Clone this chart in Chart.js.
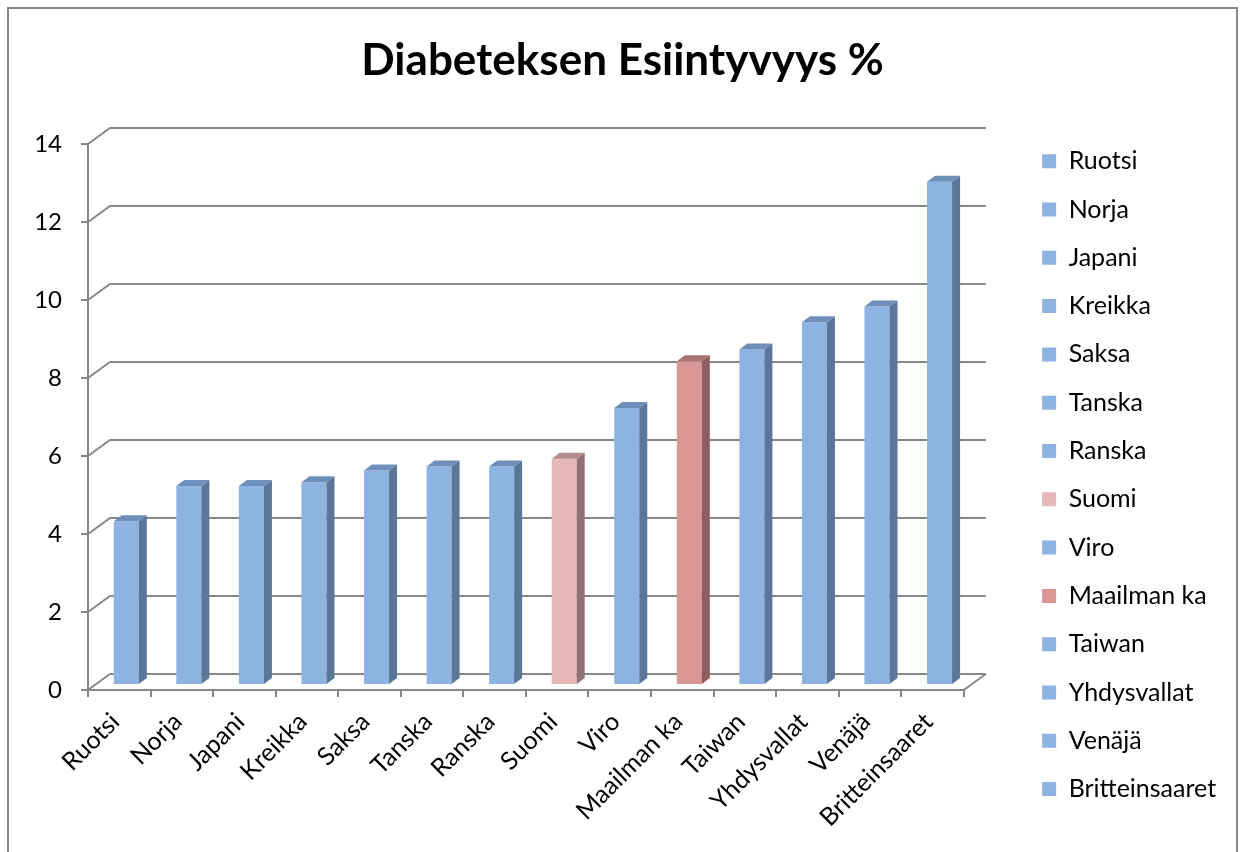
<!doctype html>
<html>
<head>
  <meta charset="utf-8">
  <script src="https://cdn.jsdelivr.net/npm/chart.js@4/dist/chart.umd.min.js"></script>
  <style>
    html, body { margin: 0; padding: 0; background: #fff; }
  </style>
</head>
<body>
  <canvas id="canvas" width="1244" height="852"></canvas>
  <script>
    const countries = ['Ruotsi', 'Norja', 'Japani', 'Kreikka', 'Saksa', 'Tanska', 'Ranska',
      'Suomi', 'Viro', 'Maailman ka', 'Taiwan', 'Yhdysvallat', 'Venäjä', 'Britteinsaaret'];
    const prevalence = [4.2, 5.1, 5.1, 5.2, 5.5, 5.6, 5.6, 5.8, 7.1, 8.3, 8.6, 9.3, 9.7, 12.9];
    const yMin = 0;
    const yMax = 14;
    const yStep = 2;

    const FONT = 'Lato';
    const GRID = '#878787';

    // back wall depth and where the columns sit inside it
    const WALL_DX = 22, WALL_DY = 16;
    const BAR_SHIFT_X = 7, BAR_SHIFT_Y = 5;
    const BAR_DX = 8, BAR_DY = 6;

    const faces = {
      plain: { front: '#8db3e2', side: '#5b7698', top: '#6f8fbb' },
      finland: { front: '#e6b9b8', side: '#927270', top: '#b48d8c' },
      world: { front: '#d99694', side: '#8c5e5c', top: '#a87371' }
    };
    const faceFor = (name) => name === 'Suomi' ? faces.finland
      : name === 'Maailman ka' ? faces.world : faces.plain;

    const depth = {
      id: 'depth',
      beforeDraw(chart) {
        const ctx = chart.ctx;
        ctx.save();
        ctx.strokeStyle = GRID;
        ctx.lineWidth = 2;
        ctx.strokeRect(8, 8, 1229, 870);
        ctx.restore();
      },
      beforeDatasetsDraw(chart) {
        const {ctx, chartArea: a, scales: {y}} = chart;
        ctx.save();
        ctx.strokeStyle = GRID;
        ctx.lineWidth = 2;
        ctx.beginPath();
        y.ticks.forEach((t) => {
          const py = Math.round(y.getPixelForValue(t.value));
          ctx.moveTo(a.left, py);
          ctx.lineTo(a.left + WALL_DX, py - WALL_DY);
          ctx.lineTo(a.right + WALL_DX, py - WALL_DY);
        });
        ctx.moveTo(a.right, a.bottom);
        ctx.lineTo(a.right + WALL_DX, a.bottom - WALL_DY);
        ctx.stroke();
        ctx.restore();

        // columns stand a little behind the front edge of the floor
        ctx.save();
        ctx.translate(BAR_SHIFT_X, -BAR_SHIFT_Y);
      },
      afterDatasetsDraw(chart) {
        const ctx = chart.ctx;
        chart.getDatasetMeta(0).data.forEach((bar, i) => {
          const f = faceFor(countries[i]);
          const {x, y, width, base} = bar.getProps(['x', 'y', 'width', 'base'], true);
          const l = x - width / 2, r = x + width / 2;
          ctx.fillStyle = f.side;
          ctx.beginPath();
          ctx.moveTo(r, y);
          ctx.lineTo(r + BAR_DX, y - BAR_DY);
          ctx.lineTo(r + BAR_DX, base - BAR_DY);
          ctx.lineTo(r, base);
          ctx.closePath();
          ctx.fill();
          ctx.fillStyle = f.top;
          ctx.beginPath();
          ctx.moveTo(l, y);
          ctx.lineTo(l + BAR_DX, y - BAR_DY);
          ctx.lineTo(r + BAR_DX, y - BAR_DY);
          ctx.lineTo(r, y);
          ctx.closePath();
          ctx.fill();
        });
        ctx.restore();
      }
    };

    new Chart(document.getElementById('canvas').getContext('2d'), {
      type: 'bar',
      data: {
        labels: countries,
        datasets: [{
          data: prevalence,
          backgroundColor: countries.map((c) => faceFor(c).front),
          barPercentage: 0.4,
          categoryPercentage: 1,
          clip: false
        }]
      },
      options: {
        responsive: false,
        animation: false,
        devicePixelRatio: 1,
        layout: { padding: { left: 28, right: 27, top: 8, bottom: 8 } },
        plugins: {
          title: {
            display: true,
            text: 'Diabeteksen Esiintyvyys %',
            color: '#000',
            font: { family: FONT, size: 44, weight: 'bold' },
            padding: { top: 26, bottom: 57 }
          },
          legend: {
            position: 'right',
            align: 'start',
            onClick: null,
            title: { display: true, text: '', padding: { top: 103, bottom: 0 } },
            labels: {
              boxWidth: 14,
              boxHeight: 14,
              padding: 23.3,
              color: '#000',
              font: { family: FONT, size: 25 },
              generateLabels: () => countries.map((c, i) => ({
                text: c,
                fillStyle: faceFor(c).front,
                strokeStyle: faceFor(c).front,
                fontColor: '#000',
                lineWidth: 0,
                hidden: false,
                index: i,
                datasetIndex: 0
              }))
            }
          },
          tooltip: { enabled: false }
        },
        scales: {
          x: {
            grid: { drawOnChartArea: false, drawTicks: true, tickLength: 7, color: GRID, lineWidth: 2 },
            border: { display: true, color: GRID, width: 2 },
            ticks: {
              autoSkip: false, minRotation: 45, maxRotation: 45, padding: 10, labelOffset: -4,
              color: '#000', font: { family: FONT, size: 25 }
            },
            afterFit: (s) => { s.height = 154; }
          },
          y: {
            min: yMin,
            max: yMax,
            ticks: { stepSize: yStep, padding: 19, color: '#000', font: { family: FONT, size: 24 } },
            grid: { drawOnChartArea: false, drawTicks: true, tickLength: 7, color: GRID, lineWidth: 2 },
            border: { display: true, color: GRID, width: 2 },
            afterFit: (s) => { s.width = 60; }
          },
          gap: {
            type: 'linear',
            position: 'right',
            grid: { display: false },
            border: { display: false },
            ticks: { display: false },
            afterFit: (s) => { s.width = 55; }
          }
        }
      },
      plugins: [depth]
    });
  </script>
</body>
</html>
